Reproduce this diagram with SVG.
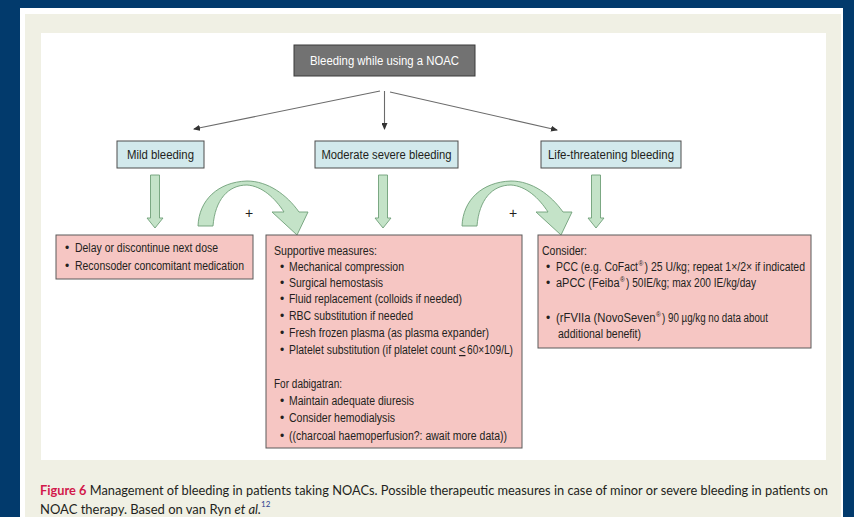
<svg xmlns="http://www.w3.org/2000/svg" xmlns:xlink="http://www.w3.org/1999/xlink" width="854" height="517" viewBox="0 0 854 517">
<style>
.t{font-family:"Liberation Sans",Arial,sans-serif;font-size:12px;fill:#231f20}
.w{font-family:"Liberation Sans",Arial,sans-serif;font-size:12px;fill:#ffffff}
.s{font-family:"Liberation Sans",Arial,sans-serif;font-size:6.5px;fill:#231f20}
.blue{fill:#d2e9ec;stroke:#4d4d4d;stroke-width:1}
.red{fill:#f6c6c3;stroke:#5a5a5a;stroke-width:1}
.grn{fill:#c4e3c8;stroke:#6f9f78;stroke-width:0.9}
.con{stroke:#6b6b6b;stroke-width:1.1;fill:none}
.cap{font-family:Lato,"Open Sans",sans-serif;font-size:13px;fill:#231f20}
.ref{font-family:Lato,"Open Sans",sans-serif;font-size:8px;fill:#2a3f8f}
</style>
<defs>
<marker id="ah" markerWidth="7" markerHeight="6" refX="6" refY="3" orient="auto" markerUnits="userSpaceOnUse">
<path d="M0,0 L7,3 L0,6 Z" fill="#333"/>
</marker>
<path id="down" class="grn" d="M-4.5,-53 L4.5,-53 L4.5,-10 L8,-10 L0,0 L-8,-10 L-4.5,-10 Z"/>
<path id="curve" class="grn" d="M198,226 C199,200 218,182 247,181 C268,181 287,195 299,212 L308,212 L297,235 L272,212 L284,212 C275,198 262,186 247,185 C228,185 215,200 213,226 Z"/>
</defs>
<rect x="0" y="0" width="854" height="517" fill="#023a6c"/>
<rect x="20" y="8" width="823" height="509" fill="#ffffff"/>
<rect x="25" y="14" width="816" height="503" fill="#f0f0e4"/>
<rect x="41" y="33" width="785" height="427" fill="#ffffff"/>

<g id="connectors">
<line class="con" x1="380" y1="91" x2="194" y2="129" marker-end="url(#ah)"/>
<line class="con" x1="384.5" y1="91" x2="384.5" y2="129" marker-end="url(#ah)"/>
<line class="con" x1="390" y1="92" x2="557" y2="130" marker-end="url(#ah)"/>
<use xlink:href="#down" x="155" y="228"/>
<use xlink:href="#down" x="383" y="228"/>
<use xlink:href="#down" x="596" y="228"/>
<use xlink:href="#curve"/>
<use xlink:href="#curve" x="264"/>
<text class="t" x="249" y="218" text-anchor="middle" style="font-size:14px">+</text>
<text class="t" x="513" y="218" text-anchor="middle" style="font-size:14px">+</text>
</g>

<g id="start">
<rect x="294" y="45" width="181" height="31" fill="#727272" stroke="#3a3a3a"/>
<text class="w" x="384.5" y="65" text-anchor="middle" textLength="149" lengthAdjust="spacingAndGlyphs">Bleeding while using a NOAC</text>
</g>

<g id="mild">
<rect class="blue" x="117" y="141" width="87" height="27"/>
<text class="t" x="160.5" y="158.5" text-anchor="middle" textLength="67" lengthAdjust="spacingAndGlyphs">Mild bleeding</text>
</g>
<g id="moderate">
<rect class="blue" x="315" y="141" width="143" height="27"/>
<text class="t" x="386.5" y="158.5" text-anchor="middle" textLength="130" lengthAdjust="spacingAndGlyphs">Moderate severe bleeding</text>
</g>
<g id="life">
<rect class="blue" x="541" y="141" width="140" height="27"/>
<text class="t" x="611" y="158.5" text-anchor="middle" textLength="126" lengthAdjust="spacingAndGlyphs">Life-threatening bleeding</text>
</g>

<g id="mild-actions">
<rect class="red" x="56" y="235" width="197" height="44"/>
<text class="t" x="65" y="252">•</text>
<text class="t" x="75" y="252" textLength="143" lengthAdjust="spacingAndGlyphs">Delay or discontinue next dose</text>
<text class="t" x="65" y="270">•</text>
<text class="t" x="75" y="270" textLength="169" lengthAdjust="spacingAndGlyphs">Reconsoder concomitant medication</text>
</g>

<g id="moderate-actions">
<rect class="red" x="266" y="235" width="256" height="213"/>
<text class="t" x="274" y="255" textLength="103" lengthAdjust="spacingAndGlyphs">Supportive measures:</text>
<text class="t" x="280" y="271">•</text>
<text class="t" x="289" y="271" textLength="115" lengthAdjust="spacingAndGlyphs">Mechanical compression</text>
<text class="t" x="280" y="287">•</text>
<text class="t" x="289" y="287" textLength="94" lengthAdjust="spacingAndGlyphs">Surgical hemostasis</text>
<text class="t" x="280" y="303">•</text>
<text class="t" x="289" y="303" textLength="173" lengthAdjust="spacingAndGlyphs">Fluid replacement (colloids if needed)</text>
<text class="t" x="280" y="320">•</text>
<text class="t" x="289" y="320" textLength="124" lengthAdjust="spacingAndGlyphs">RBC substitution if needed</text>
<text class="t" x="280" y="337">•</text>
<text class="t" x="289" y="337" textLength="200" lengthAdjust="spacingAndGlyphs">Fresh frozen plasma (as plasma expander)</text>
<text class="t" x="280" y="354">•</text>
<text class="t" x="289" y="354" textLength="167" lengthAdjust="spacingAndGlyphs">Platelet substitution (if platelet count</text>
<text class="t" x="459" y="354" text-decoration="underline" textLength="6.5" lengthAdjust="spacingAndGlyphs">&lt;</text>
<text class="t" x="467" y="354" textLength="46" lengthAdjust="spacingAndGlyphs">60×109/L)</text>
<text class="t" x="274" y="388" textLength="68" lengthAdjust="spacingAndGlyphs">For dabigatran:</text>
<text class="t" x="280" y="405">•</text>
<text class="t" x="289" y="405" textLength="125" lengthAdjust="spacingAndGlyphs">Maintain adequate diuresis</text>
<text class="t" x="280" y="422">•</text>
<text class="t" x="289" y="422" textLength="106" lengthAdjust="spacingAndGlyphs">Consider hemodialysis</text>
<text class="t" x="280" y="440">•</text>
<text class="t" x="289" y="440" textLength="218" lengthAdjust="spacingAndGlyphs">((charcoal haemoperfusion?: await more data))</text>
</g>

<g id="life-actions">
<rect class="red" x="538" y="235" width="273" height="113"/>
<text class="t" x="542" y="255" textLength="45" lengthAdjust="spacingAndGlyphs">Consider:</text>
<text class="t" x="546" y="271">•</text>
<text class="t" x="556" y="271" textLength="82" lengthAdjust="spacingAndGlyphs">PCC (e.g. CoFact</text>
<text class="s" x="638.5" y="265.5">®</text>
<text class="t" x="644.5" y="271" textLength="160.5" lengthAdjust="spacingAndGlyphs">) 25 U/kg; repeat 1×/2× if indicated</text>
<text class="t" x="546" y="287">•</text>
<text class="t" x="556" y="287" textLength="63.5" lengthAdjust="spacingAndGlyphs">aPCC (Feiba</text>
<text class="s" x="620" y="281.5">®</text>
<text class="t" x="626" y="287" textLength="130" lengthAdjust="spacingAndGlyphs">) 50IE/kg; max 200 IE/kg/day</text>
<text class="t" x="546" y="322">•</text>
<text class="t" x="556" y="322" textLength="99.5" lengthAdjust="spacingAndGlyphs">(rFVIIa (NovoSeven</text>
<text class="s" x="656" y="316.5">®</text>
<text class="t" x="662" y="322" textLength="106" lengthAdjust="spacingAndGlyphs">) 90 µg/kg no data about</text>
<text class="t" x="558" y="338" textLength="83" lengthAdjust="spacingAndGlyphs">additional benefit)</text>
</g>

<g id="caption">
<text class="cap" x="40" y="495" textLength="788" lengthAdjust="spacingAndGlyphs"><tspan font-weight="bold" fill="#d2184b">Figure 6</tspan> Management of bleeding in patients taking NOACs. Possible therapeutic measures in case of minor or severe bleeding in patients on</text>
<text class="cap" x="40" y="514">NOAC therapy. Based on van Ryn <tspan font-style="italic">et al.</tspan></text>
<text class="ref" x="261" y="507">12</text>
</g>
</svg>
